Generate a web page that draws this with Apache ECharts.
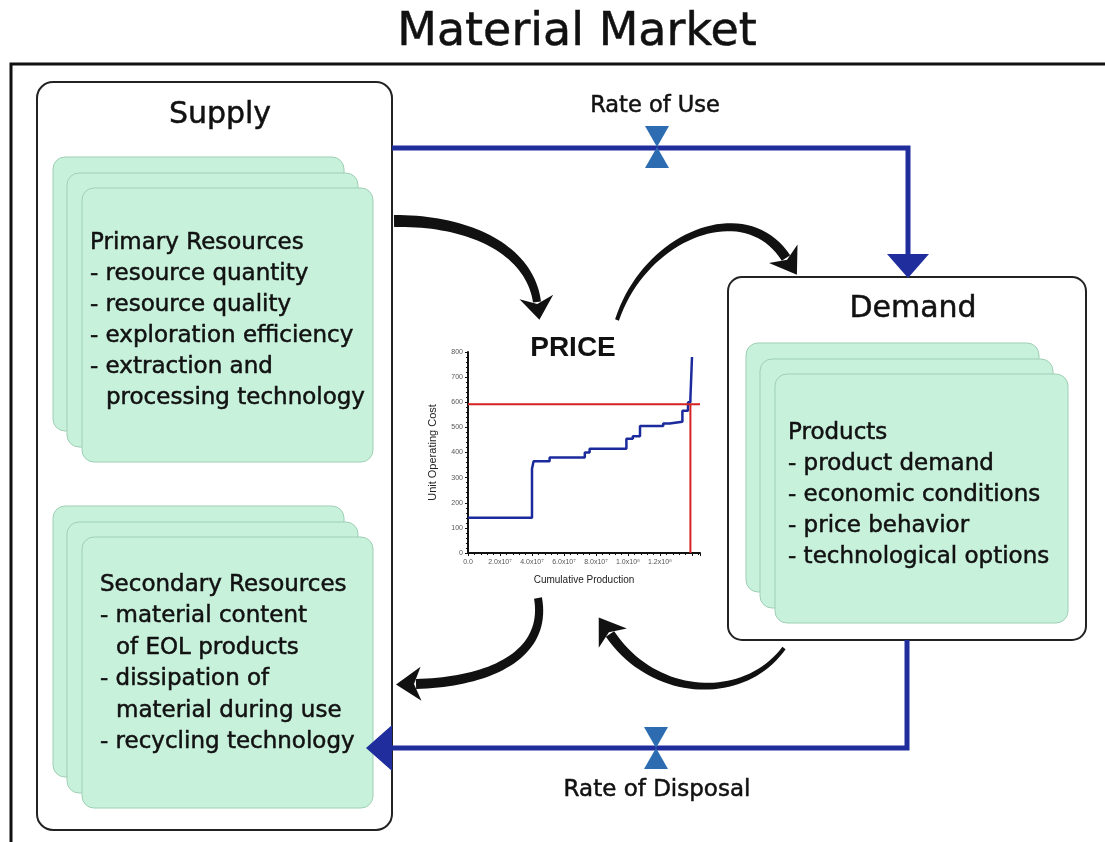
<!DOCTYPE html>
<html>
<head>
<meta charset="utf-8">
<title>Material Market</title>
<script src="https://cdn.jsdelivr.net/npm/echarts@6/dist/echarts.min.js"></script>
<style>
  html, body { margin: 0; padding: 0; background: #fff; }
  #chart { width: 1105px; height: 842px; }
</style>
</head>
<body>
<div id="chart"></div>
<script>
// supply curve: cumulative production (x10^7) where each cost block starts, and its unit cost
const production = [0, 4.0, 4.1, 5.1, 7.3, 7.6, 9.9, 10.3, 10.75, 12.2, 12.6, 13.4, 13.75, 13.9, 14.0]
const unitCost = [140, 335, 365, 380, 400, 415, 455, 465, 505, 515, 522, 566, 600, 615, 780]
// market clearing price / quantity (red lines)
const priceLevel = 592
const clearingQty = 13.9
const xTickLabels = ['0.0', '2.0x10⁷', '4.0x10⁷', '6.0x10⁷', '8.0x10⁷', '1.0x10⁸', '1.2x10⁸']

const primaryLines = ['Primary Resources', '- resource quantity', '- resource quality',
  '- exploration efficiency', '- extraction and', '  processing technology']
const secondaryLines = ['Secondary Resources', '- material content', '  of EOL products',
  '- dissipation of', '  material during use', '- recycling technology']
const demandLines = ['Products', '- product demand', '- economic conditions',
  '- price behavior', '- technological options']

const FONT = '"DejaVu Sans", Verdana, sans-serif'
const DARK_BLUE = '#1f2e9c'
const VALVE = '#2e6cb2'

function txt(text, x, y, size, opts = {}) {
  return {
    type: 'text',
    z: 30,
    style: {
      text: text,
      x: x,
      y: y,
      fontSize: size,
      fontFamily: opts.family || FONT,
      fontWeight: opts.weight || 'normal',
      fill: opts.color || '#111',
      // scanned original looks a little heavier than the plain face
      stroke: opts.weight ? null : '#111',
      lineWidth: opts.weight ? 0 : 0.5,
      textAlign: opts.align || 'left',
      align: opts.align || 'left',
      textVerticalAlign: 'middle',
      verticalAlign: 'middle'
    }
  }
}

function card(x, y, w, h, z) {
  return {
    type: 'rect',
    z: z,
    shape: { x: x, y: y, width: w, height: h, r: 12 },
    style: { fill: '#c8f1dc', stroke: '#9fcfb4', lineWidth: 1 }
  }
}

function stack(x, y, w, h) {
  // three offset cards, front one last
  return [
    card(x - 29, y - 31, w, h, 10),
    card(x - 15, y - 15, w, h, 11),
    card(x, y, w, h, 12)
  ]
}

function lines(list, x, y, step, size) {
  return list.map((s, i) => {
    const indent = s.startsWith('  ') ? 16 : 0
    return txt(s.trim(), x + indent, y + i * step, size)
  })
}

// cubic bezier helpers for the black curved arrows
function bz(p, t) {
  const u = 1 - t
  return [0, 1].map(k => u * u * u * p[0][k] + 3 * u * u * t * p[1][k] + 3 * u * t * t * p[2][k] + t * t * t * p[3][k])
}
function bzd(p, t) {
  const u = 1 - t
  return [0, 1].map(k => 3 * u * u * (p[1][k] - p[0][k]) + 6 * u * t * (p[2][k] - p[1][k]) + 3 * t * t * (p[3][k] - p[2][k]))
}
function curvedArrow(p, w0, w1, headLen, headHalf) {
  const left = []
  const right = []
  const n = 40
  for (let i = 0; i <= n; i++) {
    const t = i / n
    const pt = bz(p, t)
    const d = bzd(p, t)
    const len = Math.hypot(d[0], d[1]) || 1
    const nx = -d[1] / len
    const ny = d[0] / len
    const w = (w0 + (w1 - w0) * t) / 2
    left.push([pt[0] + nx * w, pt[1] + ny * w])
    right.push([pt[0] - nx * w, pt[1] - ny * w])
  }
  const d = bzd(p, 1)
  const len = Math.hypot(d[0], d[1])
  const dx = d[0] / len
  const dy = d[1] / len
  const nx = -dy
  const ny = dx
  const e = p[3]
  const head = [
    [e[0] + nx * headHalf - dx * 5, e[1] + ny * headHalf - dy * 5],
    [e[0] + dx * headLen, e[1] + dy * headLen],
    [e[0] - nx * headHalf - dx * 5, e[1] - ny * headHalf - dy * 5],
    [e[0] + dx * 2, e[1] + dy * 2]
  ]
  return [
    { type: 'polygon', z: 40, shape: { points: left.concat(right.reverse()) }, style: { fill: '#111' } },
    { type: 'polygon', z: 40, shape: { points: head }, style: { fill: '#111' } }
  ]
}

function valve(cx, cy) {
  return [
    { type: 'polygon', z: 45, shape: { points: [[cx - 12, cy - 21], [cx + 12, cy - 21], [cx, cy]] }, style: { fill: VALVE } },
    { type: 'polygon', z: 45, shape: { points: [[cx - 12, cy + 21], [cx + 12, cy + 21], [cx, cy]] }, style: { fill: VALVE } }
  ]
}

const graphics = [
  // outer frame
  { type: 'polyline', z: 1, shape: { points: [[11, 842], [11, 64], [1105, 64]] }, style: { stroke: '#111', lineWidth: 3, fill: null } },
  // supply / demand boxes
  { type: 'rect', z: 5, shape: { x: 37, y: 82, width: 355, height: 748, r: 16 }, style: { fill: '#fff', stroke: '#222', lineWidth: 2 } },
  { type: 'rect', z: 5, shape: { x: 728, y: 277, width: 358, height: 363, r: 14 }, style: { fill: '#fff', stroke: '#222', lineWidth: 2 } },
  ...stack(82, 188, 291, 274),
  ...stack(82, 537, 291, 271),
  ...stack(775, 374, 293, 249),
  txt('Material Market', 577, 33, 46, { align: 'center' }),
  txt('Supply', 220, 115, 30, { align: 'center' }),
  txt('Demand', 913, 309, 30, { align: 'center' }),
  txt('PRICE', 573, 348, 28, { align: 'center', weight: 'bold', family: '"Liberation Sans", Arial, sans-serif' }),
  txt('Rate of Use', 655, 106, 22.5, { align: 'center' }),
  txt('Rate of Disposal', 657, 790, 23, { align: 'center' }),
  ...lines(primaryLines, 90, 243, 31, 23),
  ...lines(secondaryLines, 100, 585, 31.4, 23),
  ...lines(demandLines, 788, 433, 31, 23),
  // rate of use flow
  { type: 'polyline', z: 42, shape: { points: [[392, 148], [908, 148], [908, 256]] }, style: { stroke: DARK_BLUE, lineWidth: 5, fill: null } },
  { type: 'polygon', z: 42, shape: { points: [[887, 254], [929, 254], [908, 278]] }, style: { fill: DARK_BLUE } },
  ...valve(657, 147),
  // rate of disposal flow
  { type: 'polyline', z: 42, shape: { points: [[907, 640], [907, 748], [390, 748]] }, style: { stroke: DARK_BLUE, lineWidth: 5, fill: null } },
  { type: 'polygon', z: 42, shape: { points: [[392, 725], [392, 771], [366, 748]] }, style: { fill: DARK_BLUE } },
  ...valve(656, 748),
  // black influence arrows
  ...curvedArrow([[394, 221], [470, 220], [530, 250], [537, 302]], 12, 8, 18, 17),
  ...curvedArrow([[617, 320], [645, 235], [745, 195], [786, 258]], 4, 10, 20, 17),
  ...curvedArrow([[784, 648], [745, 702], [655, 700], [610, 634]], 4, 10, 20, 17),
  ...curvedArrow([[538, 598], [548, 655], [490, 682], [416, 684]], 8, 10, 20, 17)
]

const chart = echarts.init(document.getElementById('chart'))

chart.setOption({
  animation: false,
  backgroundColor: '#fff',
  graphic: graphics,
  grid: {
    left: 468,
    top: 352,
    width: 232,
    height: 201
  },
  xAxis: {
    type: 'value',
    min: 0,
    max: 14.5,
    interval: 2,
    name: 'Cumulative Production',
    nameLocation: 'middle',
    nameGap: 22,
    nameTextStyle: { fontSize: 10, fontFamily: 'Liberation Sans', color: '#222' },
    axisLine: { lineStyle: { color: '#111', width: 2 } },
    axisTick: { show: true, length: 3, lineStyle: { color: '#111' } },
    minorTick: { show: true, splitNumber: 5, length: 2, lineStyle: { color: '#111' } },
    splitLine: { show: false },
    axisLabel: {
      fontSize: 7,
      color: '#555',
      margin: 6,
      formatter: v => xTickLabels[Math.round(v / 2)] || ''
    }
  },
  yAxis: {
    type: 'value',
    min: 0,
    max: 800,
    interval: 100,
    name: 'Unit Operating Cost',
    nameLocation: 'middle',
    nameGap: 30,
    nameTextStyle: { fontSize: 11, fontFamily: 'Liberation Sans', color: '#222' },
    axisLine: { show: true, lineStyle: { color: '#111', width: 2 } },
    axisTick: { show: true, length: 3, lineStyle: { color: '#111' } },
    minorTick: { show: true, splitNumber: 5, length: 2, lineStyle: { color: '#111' } },
    splitLine: { show: false },
    axisLabel: { fontSize: 7, color: '#555', margin: 5 }
  },
  series: [
    {
      type: 'line',
      step: 'end',
      symbol: 'none',
      data: production.map((x, i) => [x, unitCost[i]]),
      lineStyle: { color: '#1b2a9c', width: 2.5 },
      z: 50
    },
    {
      type: 'line',
      symbol: 'none',
      data: [[0, priceLevel], [14.5, priceLevel]],
      lineStyle: { color: '#d42222', width: 2 },
      z: 51
    },
    {
      type: 'line',
      symbol: 'none',
      data: [[clearingQty, 0], [clearingQty, priceLevel]],
      lineStyle: { color: '#d42222', width: 2 },
      z: 51
    }
  ]
})
</script>
</body>
</html>
